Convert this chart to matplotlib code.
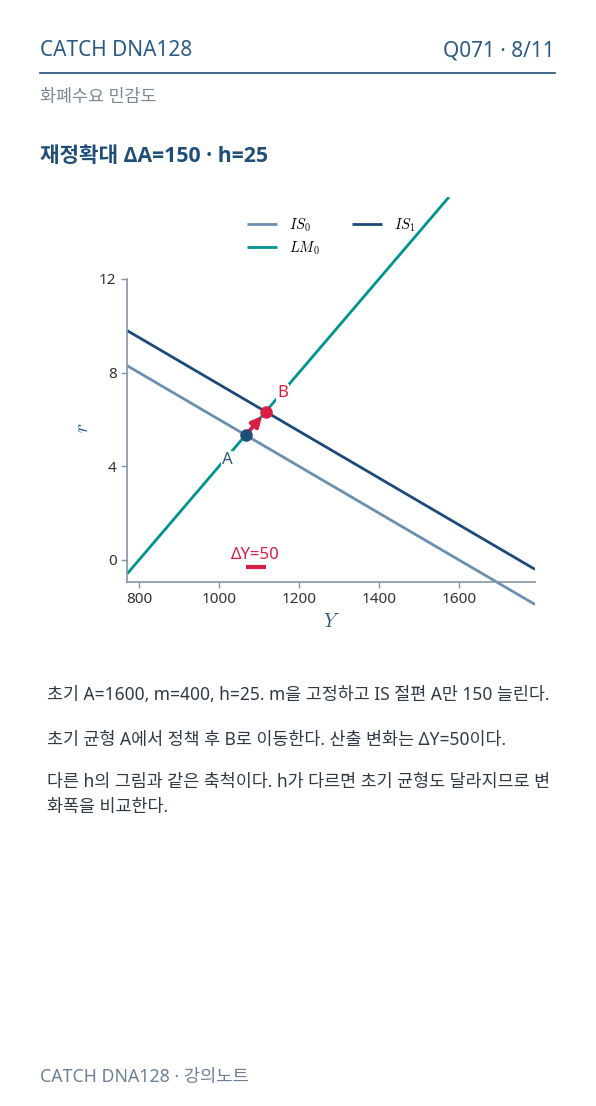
import matplotlib
matplotlib.use("Agg")
import matplotlib.pyplot as plt

plt.rcParams['font.family'] = ['Noto Sans', 'Noto Sans CJK KR', 'DejaVu Sans']
plt.rcParams['mathtext.fontset'] = 'cm'
plt.rcParams['axes.unicode_minus'] = False

# ---- data ----
Y_ends = [770, 1790]
IS0_r = [8.3, -1.9]
IS1_r = [9.8, -0.4]
LM_Y = [770, 1575]
LM_r = [-0.6, 15.5]
point_A = (1066.7, 5.33)
point_B = (1116.7, 6.33)
dY_bar_Y = [1066.7, 1116.7]
dY_bar_r = [-0.32, -0.32]
x_ticks = [800, 1000, 1200, 1400, 1600]
y_ticks = [0, 4, 8, 12]

C_IS0 = '#6b8fb0'
C_IS1 = '#1b4a78'
C_LM = '#009490'
C_RED = '#d81e45'
C_NAVY = '#1f4e79'
C_SPINE = '#8596a8'
C_TXT = '#333333'

W, H = 596, 1106
fig = plt.figure(figsize=(W / 100, H / 100), dpi=100)
fig.patch.set_facecolor('white')

def fy(y):
    return 1 - y / H

# header
fig.text(40 / W, fy(51), 'CATCH DNA128', fontsize=15, color='#2b5a85', ha='left', va='center')
fig.text(555 / W, fy(51), 'Q071 · 8/11', fontsize=15, color='#2b5a85', ha='right', va='center')
fig.add_artist(plt.Line2D([40 / W, 555 / W], [fy(73), fy(73)], color=C_NAVY, lw=1.2))
fig.text(40 / W, fy(96.5), '화폐수요 민감도', fontsize=12.5, color='#7a8896', ha='left', va='center')
fig.text(40 / W, fy(156.5), '재정확대 ΔA=150 · h=25', fontsize=15.3, color=C_NAVY, ha='left',
         va='center', fontweight='bold', family=['Open Sans', 'Noto Sans CJK KR', 'DejaVu Sans'])

# axes
ax = fig.add_axes([127 / W, 1 - 606.8 / H, 408 / W, 409.8 / H])
ax.set_xlim(770, 1790)
ax.set_ylim(-2.0, 15.5)
ax.patch.set_alpha(0)

l_is0, = ax.plot(Y_ends, IS0_r, color=C_IS0, lw=2, label=r'$IS_0$', solid_capstyle='butt')
l_lm, = ax.plot(LM_Y, LM_r, color=C_LM, lw=2, label=r'$LM_0$', solid_capstyle='butt')
l_is1, = ax.plot(Y_ends, IS1_r, color=C_IS1, lw=2, label=r'$IS_1$', solid_capstyle='butt')

ax.annotate('', xy=point_B, xytext=point_A,
            arrowprops=dict(arrowstyle='-|>', color=C_RED, lw=2.8, shrinkA=4, shrinkB=4,
                            mutation_scale=15))
ax.plot(*point_A, 'o', color=C_NAVY, ms=8, zorder=5)
ax.plot(*point_B, 'o', color=C_RED, ms=8, zorder=5)
ax.annotate('A', xy=point_A, xytext=(-13.5, -18), textcoords='offset points', ha='center',
            va='center', fontsize=12, color='#2b5a85',
            bbox=dict(boxstyle='square,pad=0.05', fc='white', ec='none'))
ax.annotate('B', xy=point_B, xytext=(12, 13.5), textcoords='offset points', ha='center',
            va='center', fontsize=12, color=C_RED,
            bbox=dict(boxstyle='square,pad=0.05', fc='white', ec='none'))

ax.plot(dY_bar_Y, dY_bar_r, color=C_RED, lw=3, solid_capstyle='butt')
ax.text(sum(dY_bar_Y) / 2 - 1, 0.21, 'ΔY=50', color=C_RED, fontsize=12, ha='center', va='center')

for s in ['top', 'right']:
    ax.spines[s].set_visible(False)
ax.spines['bottom'].set_position(('data', -0.94))
ax.spines['left'].set_bounds(-0.94, 12)
for s in ['left', 'bottom']:
    ax.spines[s].set_color(C_SPINE)
    ax.spines[s].set_linewidth(1.2)
ax.set_xticks(x_ticks)
ax.set_yticks(y_ticks)
ax.tick_params(colors=C_SPINE, labelcolor=C_TXT, labelsize=11, length=4, width=1)

ax.set_xlabel(r'$Y$', fontsize=14, color='#2b5a85', va='center')
ax.set_ylabel(r'$r$', fontsize=14, color='#2b5a85', rotation=90, va='center', ha='center')
ax.xaxis.set_label_coords(0.5, -(622 - 606.8) / 409.8)
ax.yaxis.set_label_coords((83 - 127) / 408, (606.8 - 428) / 409.8)

ax.legend(handles=[l_is0, l_lm, l_is1], ncol=2, loc='upper center', bbox_to_anchor=(0.5, 0.985),
          frameon=False, fontsize=10.5, handlelength=2.1, columnspacing=2.2, labelspacing=0.4)

# body text
body = [
    (695, '초기 A=1600, m=400, h=25. m을 고정하고 IS 절편 A만 150 늘린다.'),
    (740, '초기 균형 A에서 정책 후 B로 이동한다. 산출 변화는 ΔY=50이다.'),
    (782, '다른 h의 그림과 같은 축척이다. h가 다르면 초기 균형도 달라지므로 변'),
    (807, '화폭을 비교한다.'),
]
for y, t in body:
    fig.text(47 / W, fy(y), t, fontsize=12.5, color='#2e3a46', ha='left', va='center')

fig.text(40 / W, fy(1077), 'CATCH DNA128 · 강의노트', fontsize=12.75, color='#6b7f95', ha='left', va='center')

fig.savefig('out.png', dpi=100, facecolor='white')
